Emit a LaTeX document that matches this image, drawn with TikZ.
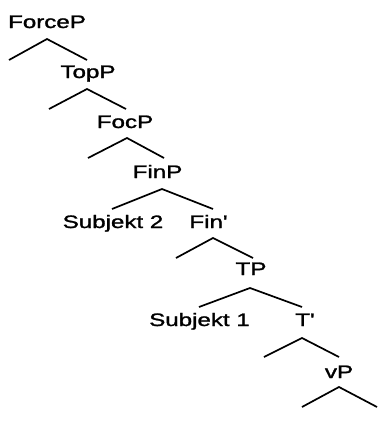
\documentclass[tikz,border=0pt]{standalone}
\usepackage{fontspec}
\usepackage{graphicx}
\setmainfont[FakeBold=1.3]{Liberation Sans}
% labels are set wide: horizontal stretch of the glyphs
\newcommand{\widelabel}[1]{\scalebox{1.34}[1]{#1}}
\begin{document}
\begin{tikzpicture}[x=1pt,y=-1pt,
  lbl/.style={anchor=base, inner sep=0pt, font=\fontsize{18}{20}\selectfont},
  branch/.style={line width=1.7pt, black}]
\useasboundingbox (0,0) rectangle (383,424);
% category labels
\node[lbl] (forcep) at (47,28) {\widelabel{ForceP}};
\node[lbl] (topp) at (88,78) {\widelabel{TopP}};
\node[lbl] (focp) at (125,128) {\widelabel{FocP}};
\node[lbl] (finp) at (157.5,178) {\widelabel{FinP}};
\node[lbl] (subj2) at (113,228) {\widelabel{Subjekt 2}};
\node[lbl] (finbar) at (208.5,228) {\widelabel{Fin\textquotesingle}};
\node[lbl] (tp) at (251,275) {\widelabel{TP}};
\node[lbl] (subj1) at (199.5,326) {\widelabel{Subjekt 1}};
\node[lbl] (tbar) at (305,326) {\widelabel{T\textquotesingle}};
\node[lbl] (vp) at (339,378) {\widelabel{vP}};
% branch points (apex, left end, right end)
\coordinate (a1) at (47,39);   \coordinate (l1) at (9,60);    \coordinate (r1) at (87,60);
\coordinate (a2) at (87,89);   \coordinate (l2) at (49,109);  \coordinate (r2) at (126,109);
\coordinate (a3) at (127,138); \coordinate (l3) at (88,158);  \coordinate (r3) at (164,158);
\coordinate (a4) at (162,189); \coordinate (l4) at (112,209); \coordinate (r4) at (213,209);
\coordinate (a5) at (213,238); \coordinate (l5) at (176,258); \coordinate (r5) at (253,258);
\coordinate (a6) at (250,288); \coordinate (l6) at (199,307); \coordinate (r6) at (302,307);
\coordinate (a7) at (302,338); \coordinate (l7) at (264,357); \coordinate (r7) at (339,357);
\coordinate (a8) at (339,387); \coordinate (l8) at (302,407); \coordinate (r8) at (377,407);
\foreach \i in {1,...,8} {
  \draw[branch] (l\i) -- (a\i) -- (r\i);
}
\end{tikzpicture}
\end{document}
